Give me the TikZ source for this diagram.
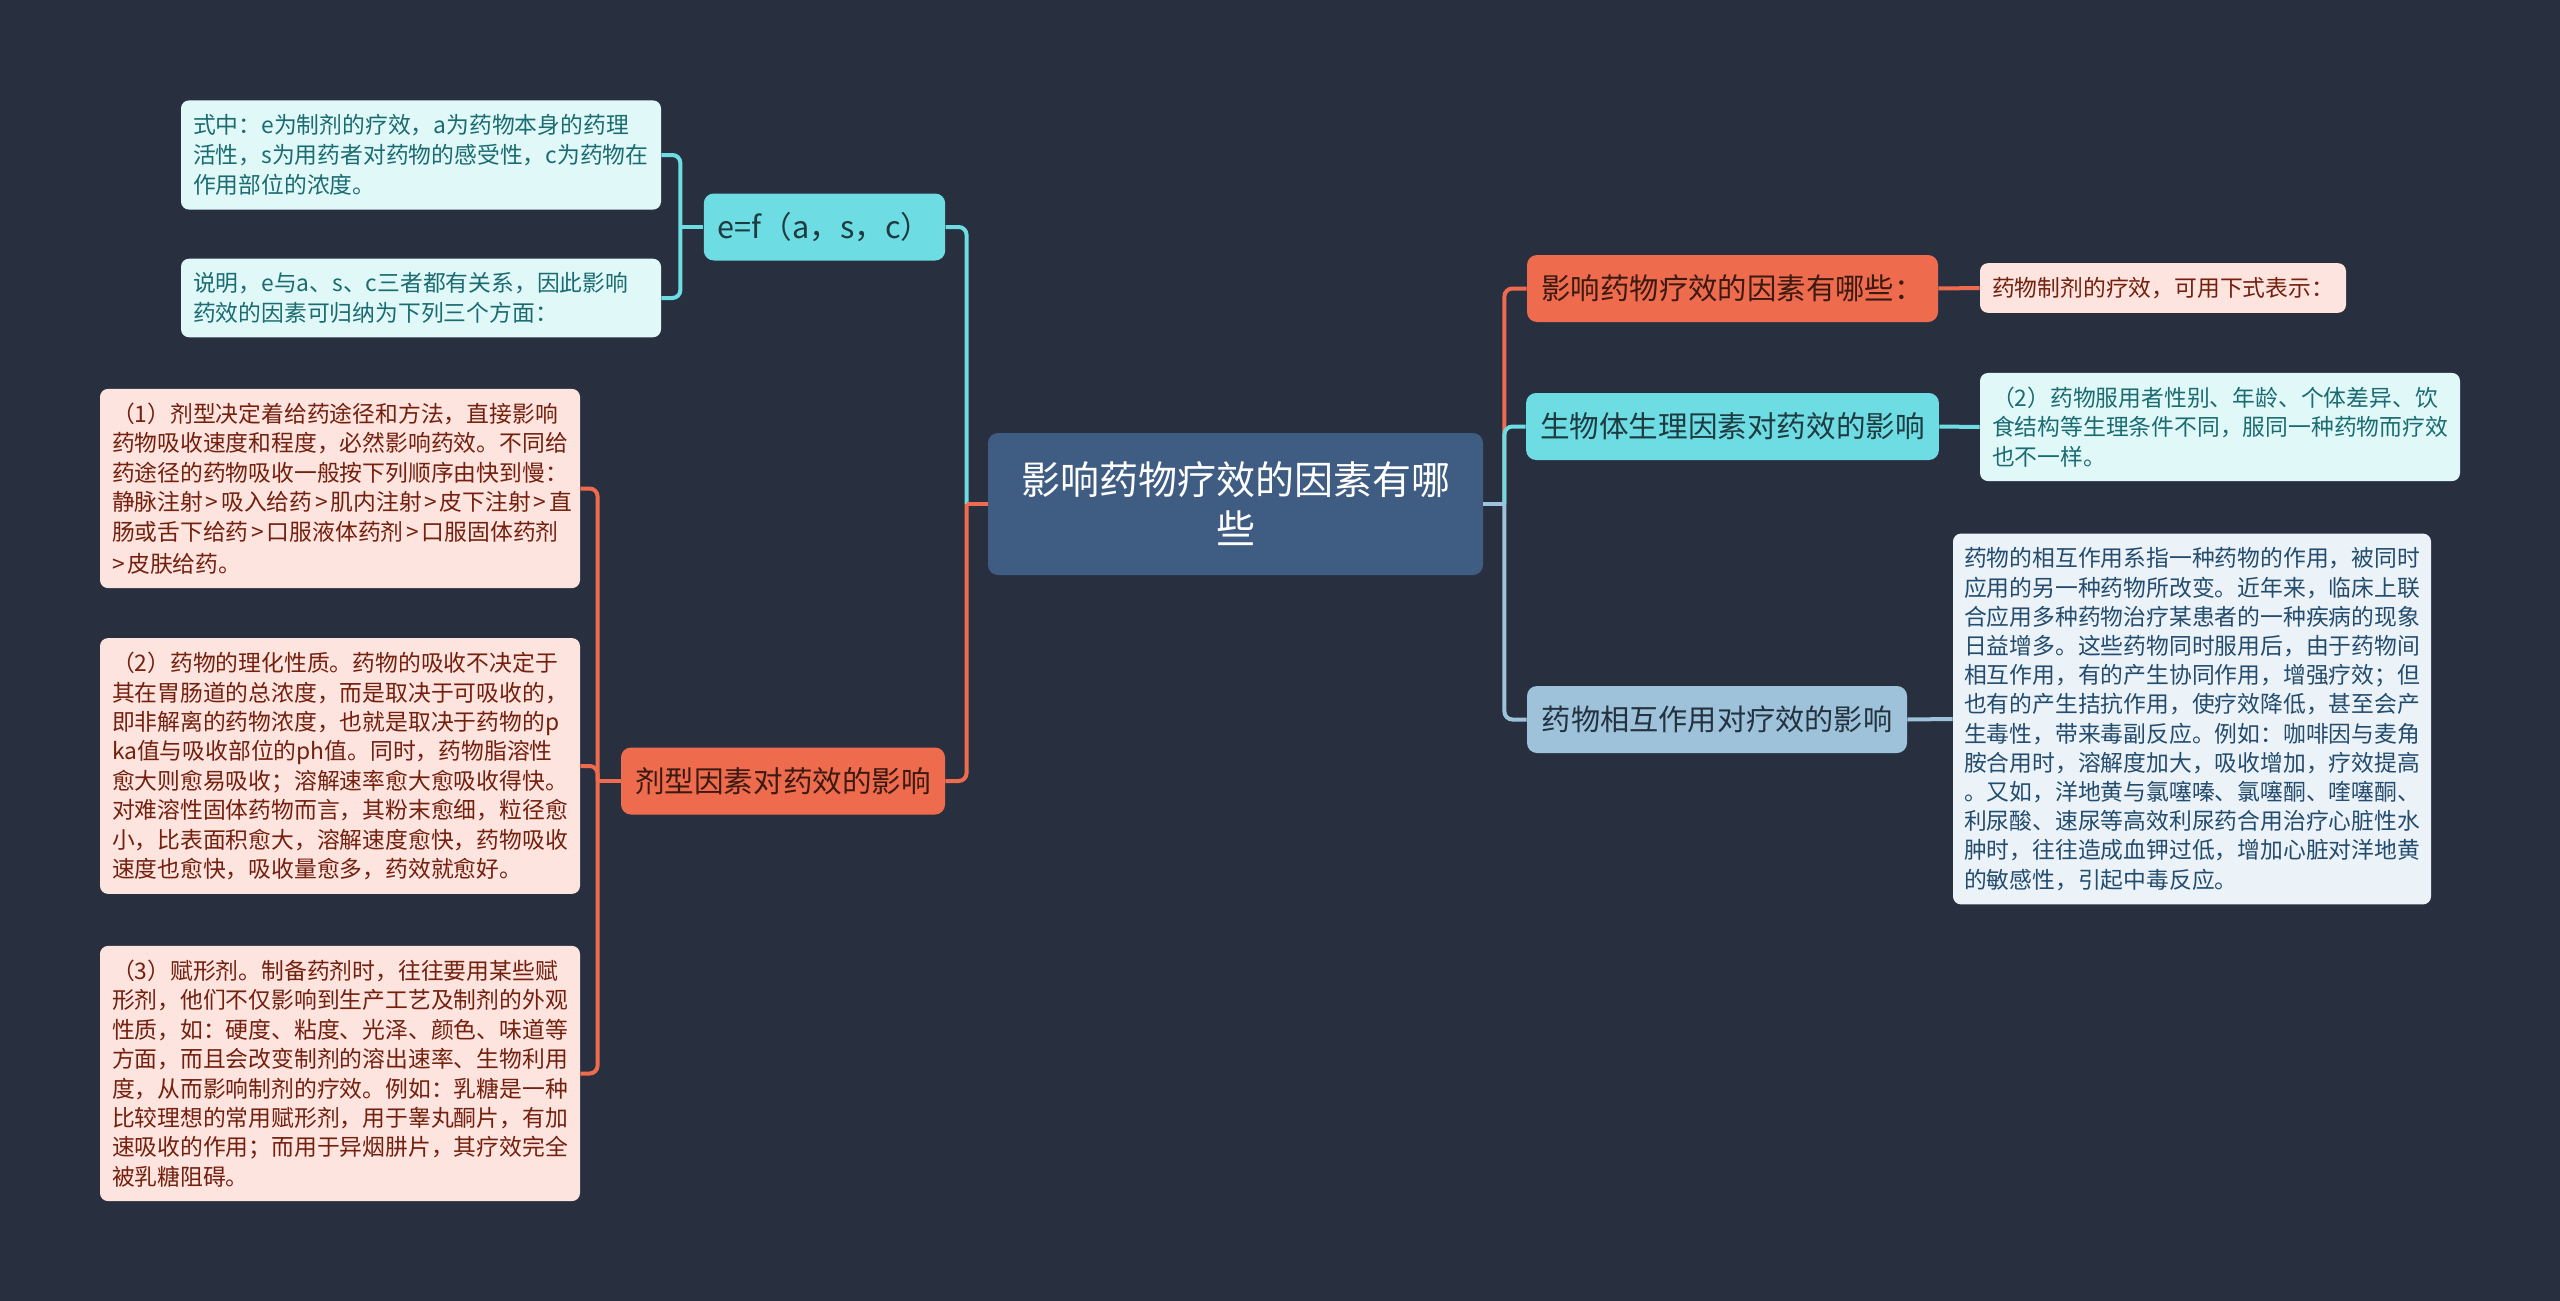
\documentclass[tikz,border=0pt]{standalone}
\usepackage{fontspec}
\setmainfont{Noto Sans CJK SC}
\usetikzlibrary{positioning, calc}

\definecolor{bgc}{HTML}{283040}
\definecolor{rootc}{HTML}{3F5C82}
\definecolor{orangec}{HTML}{EE6C4D}
\definecolor{cyanc}{HTML}{6EDCE3}
\definecolor{bluec}{HTML}{9DC2DA}
\definecolor{orangedark}{HTML}{3C1A12}
\definecolor{cyandark}{HTML}{1E3B41}
\definecolor{bluedark}{HTML}{243240}
\definecolor{pinkleaf}{HTML}{FDE4DE}
\definecolor{pinktext}{HTML}{74200F}
\definecolor{cyanleaf}{HTML}{E1F8F9}
\definecolor{cyantext}{HTML}{1B6C71}
\definecolor{blueleaf}{HTML}{EBF3F8}
\definecolor{bluetext}{HTML}{244C6E}

\newcommand{\gtsym}{\kern0.12em>\kern0.12em}

\tikzset{
  rootnode/.style={fill=rootc, rounded corners=5pt, text=white, align=center,
    font=\fontsize{19.5}{24.5}\selectfont, minimum width=247.5pt, minimum height=71pt},
  branch/.style={rounded corners=5pt, minimum height=33.5pt, inner xsep=7pt},
  leaf/.style={rounded corners=4pt, align=left, text width=228pt, inner xsep=6pt,
    inner ysep=7pt, font=\fontsize{11.4}{14.7}\selectfont},
  link/.style={line width=2pt, rounded corners=4pt},
}

\begin{document}
\begin{tikzpicture}[x=0.5pt,y=-0.5pt]

% --- Sfondo
\useasboundingbox (0,0) rectangle (2560,1301);
\fill[bgc] (0,0) rectangle (2560,1301);

% --- Nodo centrale
\node[rootnode] (root) at (1235.5,504) {影响药物疗效的因素有哪\\些};

% --- Ramo sinistro: e=f
\node[branch, fill=cyanc, text=cyandark, minimum width=119.5pt,
  font=\fontsize{15.3}{18}\selectfont] (ef) at (824.5,227) {e=f（a，s，c）};
\node[leaf, fill=cyanleaf, text=cyantext, font=\fontsize{11.4}{15}\selectfont] (shizhong) at (421,155)
  {式中：e为制剂的疗效，a为药物本身的药理\\
   活性，s为用药者对药物的感受性，c为药物在\\
   作用部位的浓度。};
\node[leaf, fill=cyanleaf, text=cyantext] (shuoming) at (421,298)
  {说明，e与a、s、c三者都有关系，因此影响\\
   药效的因素可归纳为下列三个方面：};

% --- Ramo sinistro: dosaggio
\node[branch, fill=orangec, text=orangedark, minimum width=161pt,
  font=\fontsize{14.8}{18}\selectfont] (jixing) at (783,781) {剂型因素对药效的影响};
\node[leaf, fill=pinkleaf, text=pinktext] (lfa) at (340,488.5)
  {（1）剂型决定着给药途径和方法，直接影响\\
   药物吸收速度和程度，必然影响药效。不同给\\
   药途径的药物吸收一般按下列顺序由快到慢：\\
   静脉注射\gtsym 吸入给药\gtsym 肌内注射\gtsym 皮下注射\gtsym 直\\
   肠或舌下给药\gtsym 口服液体药剂\gtsym 口服固体药剂\\
   \gtsym 皮肤给药。};
\node[leaf, fill=pinkleaf, text=pinktext] (lfb) at (340,766)
  {（2）药物的理化性质。药物的吸收不决定于\\
   其在胃肠道的总浓度，而是取决于可吸收的，\\
   即非解离的药物浓度，也就是取决于药物的p\\
   ka值与吸收部位的ph值。同时，药物脂溶性\\
   愈大则愈易吸收；溶解速率愈大愈吸收得快。\\
   对难溶性固体药物而言，其粉末愈细，粒径愈\\
   小，比表面积愈大，溶解速度愈快，药物吸收\\
   速度也愈快，吸收量愈多，药效就愈好。};
\node[leaf, fill=pinkleaf, text=pinktext] (lfc) at (340,1073.5)
  {（3）赋形剂。制备药剂时，往往要用某些赋\\
   形剂，他们不仅影响到生产工艺及制剂的外观\\
   性质，如：硬度、粘度、光泽、颜色、味道等\\
   方面，而且会改变制剂的溶出速率、生物利用\\
   度，从而影响制剂的疗效。例如：乳糖是一种\\
   比较理想的常用赋形剂，用于睾丸酮片，有加\\
   速吸收的作用；而用于异烟肼片，其疗效完全\\
   被乳糖阻碍。};

% --- Rami destri
\node[branch, fill=orangec, text=orangedark, minimum width=205.5pt,
  font=\fontsize{14.7}{18}\selectfont] (yingxiang) at (1732.5,288.5) {影响药物疗效的因素有哪些：};
\node[leaf, fill=pinkleaf, text=pinktext, text width=171pt] (zhiji) at (2163,288)
  {药物制剂的疗效，可用下式表示：};

\node[branch, fill=cyanc, text=cyandark, minimum width=205.5pt,
  font=\fontsize{14.8}{18}\selectfont] (shengwu) at (1732.5,426.5) {生物体生理因素对药效的影响};
\node[leaf, fill=cyanleaf, text=cyantext] (yongzhe) at (2220,427)
  {（2）药物服用者性别、年龄、个体差异、饮\\
   食结构等生理条件不同，服同一种药物而疗效\\
   也不一样。};

\node[branch, fill=bluec, text=bluedark, minimum width=190pt,
  font=\fontsize{14.6}{18}\selectfont] (xianghu) at (1717,719.5) {药物相互作用对疗效的影响};
\node[leaf, fill=blueleaf, text=bluetext, inner xsep=5.5pt,
  font=\fontsize{11.4}{14.6}\selectfont] (zuoyong) at (2192,719)
  {药物的相互作用系指一种药物的作用，被同时\\
   应用的另一种药物所改变。近年来，临床上联\\
   合应用多种药物治疗某患者的一种疾病的现象\\
   日益增多。这些药物同时服用后，由于药物间\\
   相互作用，有的产生协同作用，增强疗效；但\\
   也有的产生拮抗作用，使疗效降低，甚至会产\\
   生毒性，带来毒副反应。例如：咖啡因与麦角\\
   胺合用时，溶解度加大，吸收增加，疗效提高\\
   。又如，洋地黄与氯噻嗪、氯噻酮、喹噻酮、\\
   利尿酸、速尿等高效利尿药合用治疗心脏性水\\
   肿时，往往造成血钾过低，增加心脏对洋地黄\\
   的敏感性，引起中毒反应。};

% --- Connettori
\path (root.west) ++(-21,0) coordinate (lj);
\path (root.east) ++(21,0) coordinate (rj);

\draw[link, cyanc] (lj) |- (ef.east);
\draw[link, orangec] (lj) |- (jixing.east);
\draw[link, orangec] (root.west) -- (lj);

\draw[link, orangec] (rj) |- (yingxiang.west);
\draw[link, cyanc] (rj) |- (shengwu.west);
\draw[link, bluec] (rj) |- (xianghu.west);
\draw[link, bluec] (root.east) -- (rj);

\draw[link, cyanc] (ef.west) -- ++(-23,0) coordinate (ej);
\foreach \n in {shizhong,shuoming}
  \draw[link, cyanc] (ej) |- (\n.east);

\draw[link, orangec] (jixing.west) -- ++(-23,0) coordinate (jj);
\foreach \n in {lfa,lfb,lfc}
  \draw[link, orangec] (jj) |- (\n.east);

\draw[link, orangec] (yingxiang.east) -- (zhiji.west);
\draw[link, cyanc] (shengwu.east) -- (yongzhe.west);
\draw[link, bluec] (xianghu.east) -- (zuoyong.west);

\end{tikzpicture}
\end{document}
